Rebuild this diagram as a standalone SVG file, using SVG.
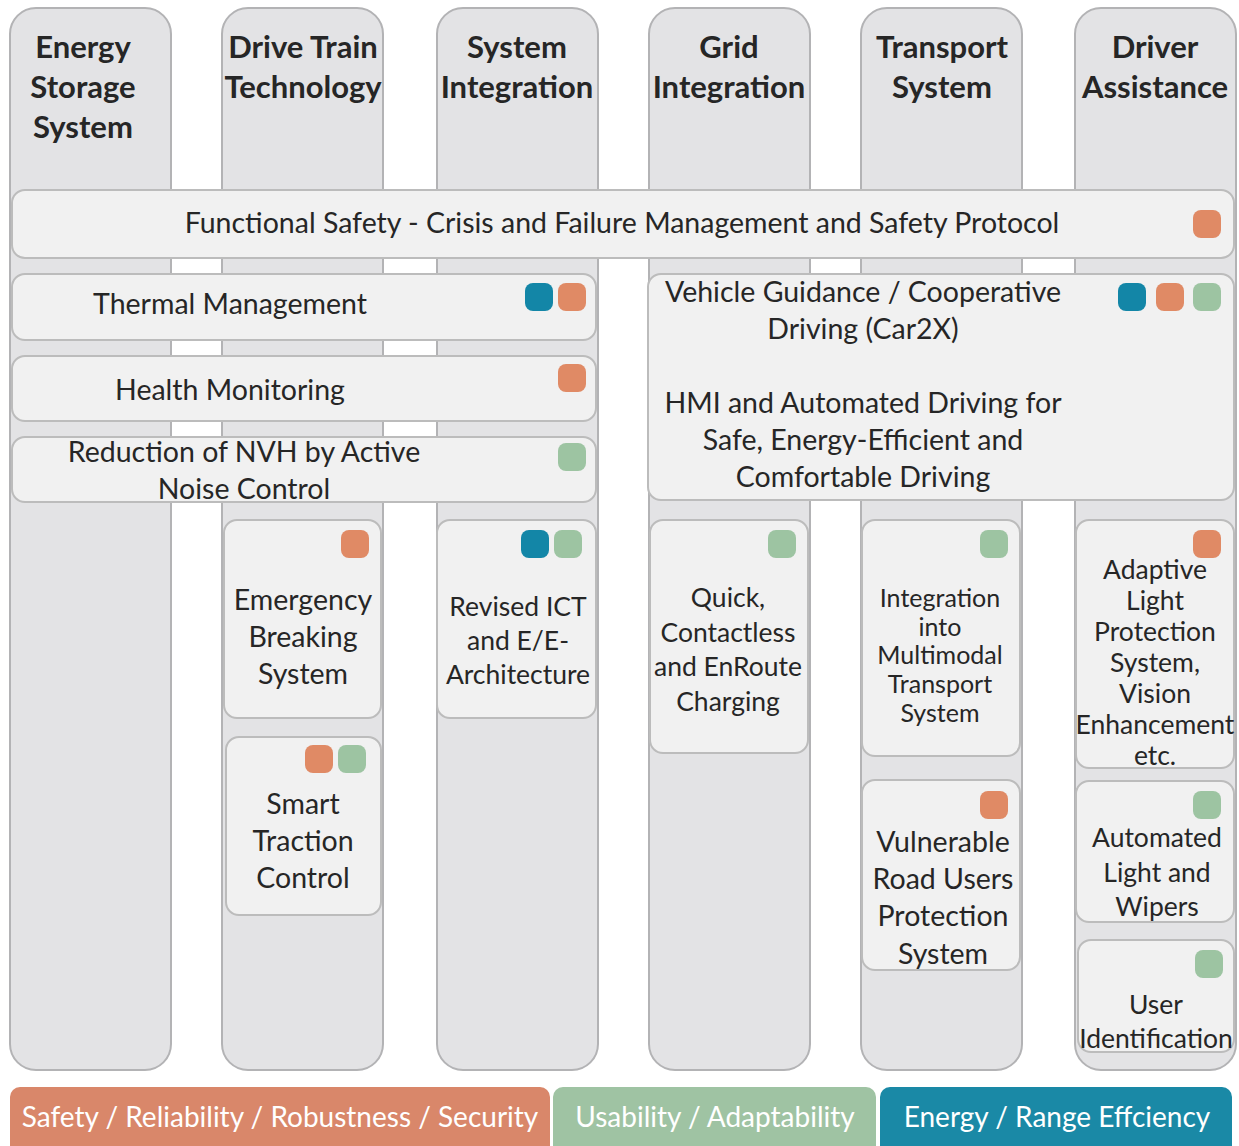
<svg xmlns="http://www.w3.org/2000/svg" width="1239" height="1146" viewBox="0 0 1239 1146">
  <style>
    .col { fill: #e3e3e5; stroke: #b3b3b5; stroke-width: 2; }
    .box { fill: #f1f1f1; stroke: #bcbcbc; stroke-width: 2; }
    .hdr { font-family: Lato, "Liberation Sans", sans-serif; font-weight: bold; font-size: 31px; fill: #262626; text-anchor: middle; }
    .t { font-family: Lato, "Liberation Sans", sans-serif; font-size: 28.5px; fill: #262626; text-anchor: middle; }
    .ts { font-family: Lato, "Liberation Sans", sans-serif; font-size: 26.5px; fill: #262626; text-anchor: middle; }
    .tx { font-family: Lato, "Liberation Sans", sans-serif; font-size: 25px; fill: #262626; text-anchor: middle; }
    .lg { font-family: Lato, "Liberation Sans", sans-serif; font-size: 28px; fill: #ffffff; text-anchor: middle; }
    .or { fill: #e08a65; }
    .gr { fill: #9dc4a2; }
    .bl { fill: #1386a7; }
  </style>
  <defs>
    <rect id="chip" width="28" height="28" rx="8"/>
  </defs>

  <rect width="1239" height="1146" fill="#ffffff"/>

  <!-- columns -->
  <g id="col-energy-storage">
    <rect class="col" x="10" y="8" width="161" height="1062" rx="26"/>
    <text class="hdr" x="83" y="58">Energy</text>
    <text class="hdr" x="83" y="98">Storage</text>
    <text class="hdr" x="83" y="138">System</text>
  </g>
  <g id="col-drive-train">
    <rect class="col" x="222" y="8" width="161" height="1062" rx="26"/>
    <text class="hdr" x="303" y="58">Drive Train</text>
    <text class="hdr" x="303" y="98">Technology</text>
  </g>
  <g id="col-system-integration">
    <rect class="col" x="437" y="8" width="161" height="1062" rx="26"/>
    <text class="hdr" x="517" y="58">System</text>
    <text class="hdr" x="517" y="98">Integration</text>
  </g>
  <g id="col-grid-integration">
    <rect class="col" x="649" y="8" width="161" height="1062" rx="26"/>
    <text class="hdr" x="729" y="58">Grid</text>
    <text class="hdr" x="729" y="98">Integration</text>
  </g>
  <g id="col-transport-system">
    <rect class="col" x="861" y="8" width="161" height="1062" rx="26"/>
    <text class="hdr" x="942" y="58">Transport</text>
    <text class="hdr" x="942" y="98">System</text>
  </g>
  <g id="col-driver-assistance">
    <rect class="col" x="1075" y="8" width="161" height="1062" rx="26"/>
    <text class="hdr" x="1155" y="58">Driver</text>
    <text class="hdr" x="1155" y="98">Assistance</text>
  </g>

  <!-- cross-cutting bars -->
  <g id="functional-safety">
    <rect class="box" x="12" y="190" width="1222" height="68" rx="13"/>
    <text class="t" x="622" y="233">Functional Safety - Crisis and Failure Management and Safety Protocol</text>
    <use href="#chip" class="or" x="1193" y="210"/>
  </g>
  <g id="thermal-management">
    <rect class="box" x="12" y="274" width="584" height="66" rx="13"/>
    <text class="t" x="230" y="314">Thermal Management</text>
    <use href="#chip" class="bl" x="525" y="283"/>
    <use href="#chip" class="or" x="558" y="283"/>
  </g>
  <g id="health-monitoring">
    <rect class="box" x="12" y="356" width="584" height="65" rx="13"/>
    <text class="t" x="230" y="400">Health Monitoring</text>
    <use href="#chip" class="or" x="558" y="364"/>
  </g>
  <g id="nvh-reduction">
    <rect class="box" x="12" y="437" width="584" height="65" rx="13"/>
    <text class="t" x="244" y="462">Reduction of NVH by Active</text>
    <text class="t" x="244" y="499">Noise Control</text>
    <use href="#chip" class="gr" x="558" y="443"/>
  </g>
  <g id="vehicle-guidance">
    <rect class="box" x="648" y="274" width="586" height="226" rx="13"/>
    <text class="t" x="863" y="302">Vehicle Guidance / Cooperative</text>
    <text class="t" x="863" y="339">Driving (Car2X)</text>
    <text class="t" x="863" y="413">HMI and Automated Driving for</text>
    <text class="t" x="863" y="450">Safe, Energy-Efficient and</text>
    <text class="t" x="863" y="487">Comfortable Driving</text>
    <use href="#chip" class="bl" x="1118" y="283"/>
    <use href="#chip" class="or" x="1156" y="283"/>
    <use href="#chip" class="gr" x="1193" y="283"/>
  </g>

  <!-- column boxes -->
  <g id="emergency-braking">
    <rect class="box" x="224" y="520" width="157" height="198" rx="13"/>
    <use href="#chip" class="or" x="341" y="530"/>
    <text class="t" x="303" y="610">Emergency</text>
    <text class="t" x="303" y="647">Breaking</text>
    <text class="t" x="303" y="684">System</text>
  </g>
  <g id="smart-traction">
    <rect class="box" x="226" y="737" width="155" height="178" rx="13"/>
    <use href="#chip" class="or" x="305" y="745"/>
    <use href="#chip" class="gr" x="338" y="745"/>
    <text class="t" x="303" y="814">Smart</text>
    <text class="t" x="303" y="851">Traction</text>
    <text class="t" x="303" y="888">Control</text>
  </g>
  <g id="revised-ict">
    <rect class="box" x="437" y="520" width="159" height="198" rx="13"/>
    <use href="#chip" class="bl" x="521" y="530"/>
    <use href="#chip" class="gr" x="554" y="530"/>
    <text class="ts" x="518" y="616">Revised ICT</text>
    <text class="ts" x="518" y="650">and E/E-</text>
    <text class="ts" x="518" y="684">Architecture</text>
  </g>
  <g id="quick-charging">
    <rect class="box" x="650" y="520" width="158" height="233" rx="13"/>
    <use href="#chip" class="gr" x="768" y="530"/>
    <text class="ts" x="728" y="607">Quick,</text>
    <text class="ts" x="728" y="642">Contactless</text>
    <text class="ts" x="728" y="676">and EnRoute</text>
    <text class="ts" x="728" y="711">Charging</text>
  </g>
  <g id="multimodal-integration">
    <rect class="box" x="862" y="520" width="158" height="236" rx="13"/>
    <use href="#chip" class="gr" x="980" y="530"/>
    <text class="tx" x="940" y="607">Integration</text>
    <text class="tx" x="940" y="636">into</text>
    <text class="tx" x="940" y="664">Multimodal</text>
    <text class="tx" x="940" y="693">Transport</text>
    <text class="tx" x="940" y="722">System</text>
  </g>
  <g id="vulnerable-road-users">
    <rect class="box" x="862" y="780" width="158" height="190" rx="13"/>
    <use href="#chip" class="or" x="980" y="791"/>
    <text class="t" x="943" y="852">Vulnerable</text>
    <text class="t" x="943" y="889">Road Users</text>
    <text class="t" x="943" y="926">Protection</text>
    <text class="t" x="943" y="964">System</text>
  </g>
  <g id="adaptive-light">
    <rect class="box" x="1076" y="520" width="158" height="248" rx="13"/>
    <use href="#chip" class="or" x="1193" y="530"/>
    <text class="ts" x="1155" y="579">Adaptive</text>
    <text class="ts" x="1155" y="610">Light</text>
    <text class="ts" x="1155" y="641">Protection</text>
    <text class="ts" x="1155" y="672">System,</text>
    <text class="ts" x="1155" y="703">Vision</text>
    <text class="ts" x="1155" y="734">Enhancement</text>
    <text class="ts" x="1155" y="765">etc.</text>
  </g>
  <g id="automated-light-wipers">
    <rect class="box" x="1076" y="781" width="158" height="141" rx="13"/>
    <use href="#chip" class="gr" x="1193" y="791"/>
    <text class="ts" x="1157" y="847">Automated</text>
    <text class="ts" x="1157" y="882">Light and</text>
    <text class="ts" x="1157" y="916">Wipers</text>
  </g>
  <g id="user-identification">
    <rect class="box" x="1078" y="940" width="156" height="112" rx="13"/>
    <use href="#chip" class="gr" x="1195" y="950"/>
    <text class="ts" x="1156" y="1014">User</text>
    <text class="ts" x="1156" y="1048">Identification</text>
  </g>

  <!-- legend -->
  <g id="legend-safety">
    <rect x="10" y="1087" width="540" height="70" rx="10" fill="#d9876a"/>
    <text class="lg" x="280" y="1127">Safety / Reliability / Robustness / Security</text>
  </g>
  <g id="legend-usability">
    <rect x="553" y="1087" width="323" height="70" rx="10" fill="#9fc3a3"/>
    <text class="lg" x="715" y="1127">Usability / Adaptability</text>
  </g>
  <g id="legend-energy">
    <rect x="880" y="1087" width="352" height="70" rx="10" fill="#1a89a6"/>
    <text class="lg" x="1057" y="1127">Energy / Range Effciency</text>
  </g>
</svg>
